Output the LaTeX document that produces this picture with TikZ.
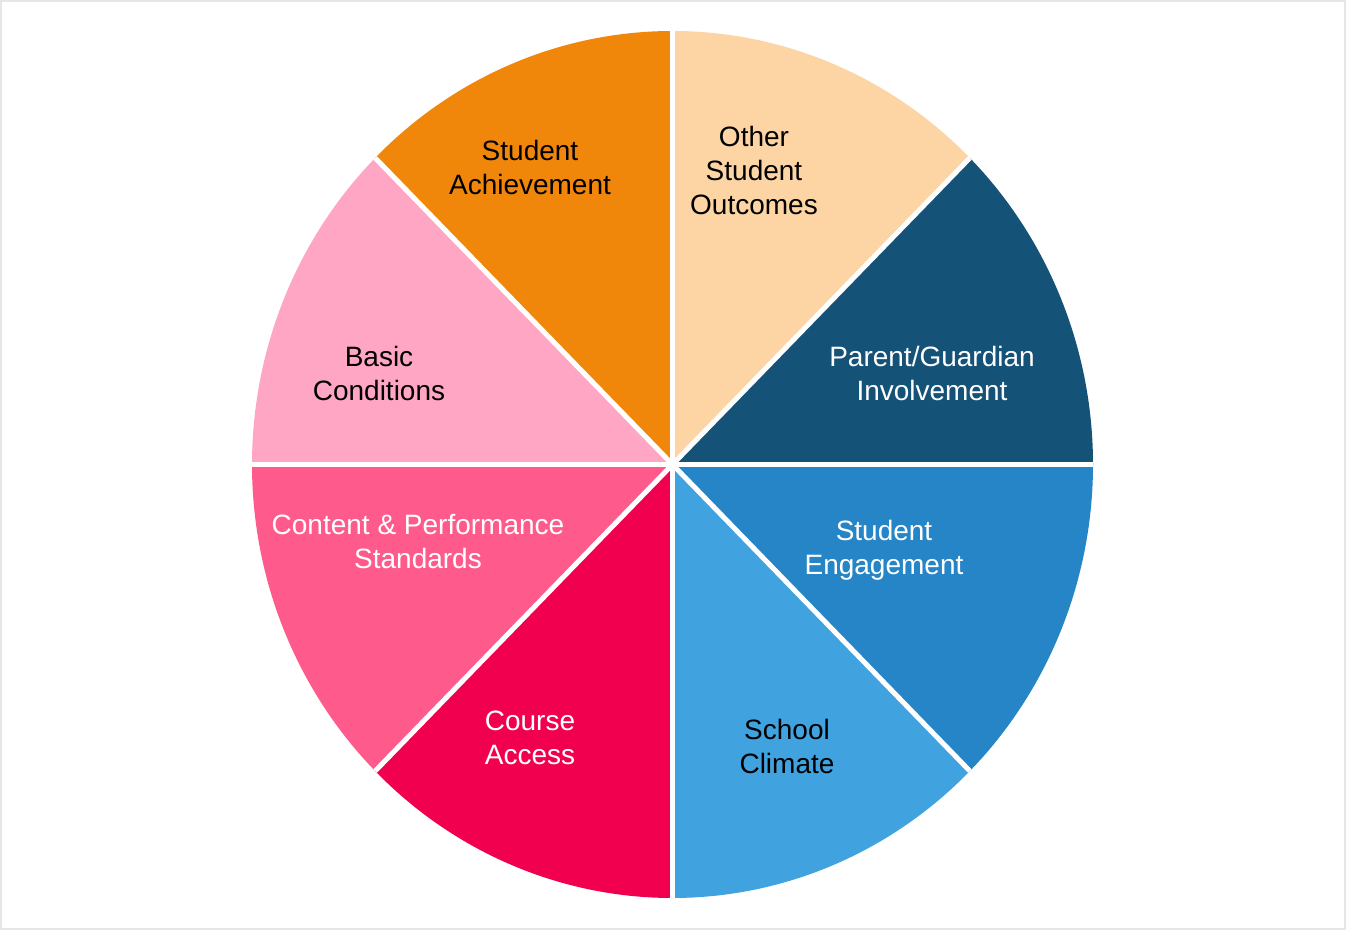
\documentclass[tikz,border=0pt]{standalone}
\usepackage{fontspec}
\setmainfont{Liberation Sans}
\definecolor{cAch}{HTML}{F0870A}
\definecolor{cOth}{HTML}{FDD5A4}
\definecolor{cPar}{HTML}{155278}
\definecolor{cEng}{HTML}{2585C7}
\definecolor{cCli}{HTML}{40A2DF}
\definecolor{cCou}{HTML}{F0004F}
\definecolor{cCon}{HTML}{FF5A8C}
\definecolor{cBas}{HTML}{FFA6C4}
\definecolor{frame}{HTML}{E6E6E6}
\begin{document}
\begin{tikzpicture}[x=1pt,y=1pt,
  lbl/.style={align=center,font=\fontsize{28}{34}\selectfont,inner sep=0pt},
  sep/.style={draw=white,line width=5pt}]
\useasboundingbox (0,0) rectangle (1346,930);
\fill[white] (0,0) rectangle (1346,930);
\draw[frame,line width=2pt] (1,1) rectangle (1345,929);
\begin{scope}[shift={(672.5,465.5)},xscale=420.5,yscale=433.5]
  \coordinate (c) at (0,0);
  \foreach \a in {0,45,...,315} {\coordinate (r\a) at (\a:1);}
  \fill[cPar] (0,0) -- (0:1) arc[start angle=0,end angle=45,radius=1] -- cycle;
  \fill[cOth] (0,0) -- (45:1) arc[start angle=45,end angle=90,radius=1] -- cycle;
  \fill[cAch] (0,0) -- (90:1) arc[start angle=90,end angle=135,radius=1] -- cycle;
  \fill[cBas] (0,0) -- (135:1) arc[start angle=135,end angle=180,radius=1] -- cycle;
  \fill[cCon] (0,0) -- (180:1) arc[start angle=180,end angle=225,radius=1] -- cycle;
  \fill[cCou] (0,0) -- (225:1) arc[start angle=225,end angle=270,radius=1] -- cycle;
  \fill[cCli] (0,0) -- (270:1) arc[start angle=270,end angle=315,radius=1] -- cycle;
  \fill[cEng] (0,0) -- (315:1) arc[start angle=315,end angle=360,radius=1] -- cycle;
\end{scope}
\foreach \a in {0,45,...,315} {\draw[sep] (c) -- (r\a);}
\node[lbl,text=black] (ach) at (530,763) {Student\\Achievement};
\node[lbl,text=black] (oth) at (754,760) {Other\\Student\\Outcomes};
\node[lbl,text=white] (par) at (932,557) {Parent/Guardian\\Involvement};
\node[lbl,text=black] (bas) at (379,557) {Basic\\Conditions};
\node[lbl,text=white] (con) at (418,388) {Content \& Performance\\Standards};
\node[lbl,text=white] (eng) at (884,380) {Student\\Engagement};
\node[lbl,text=white] (cou) at (530,192) {Course\\Access};
\node[lbl,text=black] (cli) at (787,184) {School\\Climate};
\end{tikzpicture}
\end{document}
